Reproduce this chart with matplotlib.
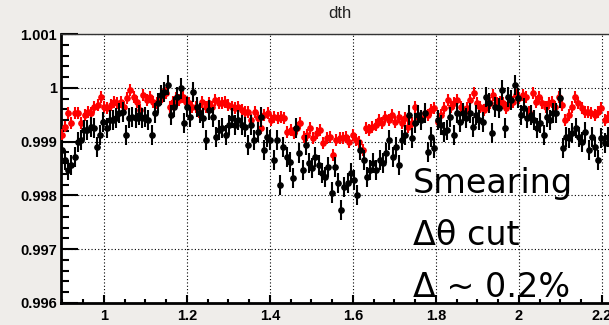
import matplotlib
matplotlib.use('Agg')
import matplotlib.pyplot as plt
import numpy as np
from matplotlib.ticker import MultipleLocator, FuncFormatter

# dth ratio, red = smearing, black = delta-theta cut
red_vals = [
    0.99912, 0.99928, 0.99953, 0.99935, 0.99953, 0.99953, 0.99935, 0.99949, 0.99955, 0.99953,
    0.99964, 0.99968, 0.99983, 0.99964, 0.99962, 0.99968, 0.99974, 0.99972, 0.99974, 0.99964,
    0.99981, 0.99996, 0.99983, 0.99974, 0.99959, 0.99987, 0.99977, 0.99983, 0.99974, 0.99972,
    0.99977, 0.99987, 0.99990, 0.99964, 0.99974, 0.99981, 0.99977, 0.99983, 0.99974, 0.99972,
    0.99964, 0.99964, 0.99955, 0.99974, 0.99964, 0.99972, 0.99964, 0.99977, 0.99972, 0.99972,
    0.99974, 0.99968, 0.99964, 0.99962, 0.99964, 0.99959, 0.99955, 0.99955, 0.99940, 0.99955,
    0.99944, 0.99925, 0.99949, 0.99953, 0.99940, 0.99946, 0.99944, 0.99946, 0.99944, 0.99918,
    0.99922, 0.99916, 0.99925, 0.99935, 0.99909, 0.99912, 0.99925, 0.99907, 0.99916, 0.99922,
    0.99897, 0.99907, 0.99909, 0.99875, 0.99903, 0.99907, 0.99907, 0.99909, 0.99899, 0.99912,
    0.99903, 0.99899, 0.99884, 0.99925, 0.99922, 0.99927, 0.99931, 0.99940, 0.99935, 0.99946,
    0.99940, 0.99949, 0.99936, 0.99946, 0.99935, 0.99944, 0.99927, 0.99935, 0.99964, 0.99946,
    0.99944, 0.99953, 0.99949, 0.99959, 0.99962, 0.99936, 0.99949, 0.99962, 0.99977, 0.99964,
    0.99972, 0.99977, 0.99964, 0.99953, 0.99962, 0.99977, 0.99990, 0.99972, 0.99964, 0.99959,
    0.99968, 0.99972, 0.99987, 0.99972, 0.99974, 0.99972, 0.99962, 0.99972, 0.99974, 0.99987,
    0.99981, 0.99987, 0.99983, 0.99955, 0.99990, 0.99974, 0.99983, 0.99972, 0.99964, 0.99972,
    0.99974, 0.99964, 0.99983, 0.99968, 0.99940, 0.99949, 0.99964, 0.99983, 0.99972, 0.99962,
    0.99955, 0.99955, 0.99953, 0.99949, 0.99955, 0.99962, 0.99940, 0.99946,
]
black_vals = [
    0.99884, 0.99866, 0.99847, 0.99857, 0.99871, 0.99899, 0.99903, 0.99922, 0.99922, 0.99927,
    0.99925, 0.99890, 0.99912, 0.99936, 0.99925, 0.99940, 0.99940, 0.99944, 0.99953, 0.99955,
    0.99912, 0.99944, 0.99946, 0.99944, 0.99949, 0.99944, 0.99946, 0.99940, 0.99912, 0.99953,
    0.99972, 0.99987, 0.99992, 1.00005, 0.99949, 0.99964, 0.99983, 0.99999, 0.99935, 0.99964,
    0.99946, 0.99992, 0.99964, 0.99953, 0.99944, 0.99903, 0.99959, 0.99946, 0.99909, 0.99922,
    0.99925, 0.99912, 0.99931, 0.99944, 0.99931, 0.99940, 0.99931, 0.99927, 0.99894, 0.99931,
    0.99903, 0.99918, 0.99946, 0.99884, 0.99909, 0.99903, 0.99866, 0.99903, 0.99819, 0.99890,
    0.99871, 0.99862, 0.99832, 0.99925, 0.99879, 0.99847, 0.99894, 0.99860, 0.99851, 0.99871,
    0.99857, 0.99842, 0.99834, 0.99853, 0.99805, 0.99853, 0.99823, 0.99773, 0.99816, 0.99823,
    0.99842, 0.99829, 0.99801, 0.99884, 0.99866, 0.99834, 0.99847, 0.99860, 0.99847, 0.99866,
    0.99860, 0.99879, 0.99903, 0.99871, 0.99890, 0.99857, 0.99903, 0.99912, 0.99949, 0.99907,
    0.99935, 0.99949, 0.99940, 0.99953, 0.99881, 0.99909, 0.99888, 0.99940, 0.99931, 0.99918,
    0.99922, 0.99946, 0.99912, 0.99953, 0.99936, 0.99953, 0.99944, 0.99953, 0.99927, 0.99949,
    0.99940, 0.99936, 0.99983, 0.99972, 0.99916, 0.99964, 0.99962, 0.99996, 0.99925, 0.99983,
    0.99977, 1.00005, 0.99981, 0.99949, 0.99962, 0.99944, 0.99949, 0.99940, 0.99925, 0.99935,
    0.99912, 0.99946, 0.99940, 0.99953, 0.99953, 0.99981, 0.99888, 0.99909, 0.99907, 0.99916,
    0.99925, 0.99909, 0.99899, 0.99918, 0.99884, 0.99909, 0.99890, 0.99866, 0.99907, 0.99897,
    0.99909,
]
red_err = 0.00011
black_err = 0.00019
x_first, x_last = 0.898, 2.214

x_red = np.linspace(x_first, x_last, len(red_vals))
x_black = np.linspace(x_first, x_last, len(black_vals))

fig = plt.figure(figsize=(6.09, 3.25), dpi=100)
fig.patch.set_facecolor('#efedea')
ax = fig.add_axes([61/609, 22/325, 548/609, 269/325])
ax.set_facecolor('white')

ax.errorbar(x_red, red_vals, yerr=red_err, fmt='o', ms=3.8, color='red',
            ecolor='red', elinewidth=1.5, capsize=0, zorder=3)
ax.errorbar(x_black, black_vals, yerr=black_err, fmt='o', ms=3.8, color='black',
            ecolor='black', elinewidth=1.5, capsize=0, zorder=4)

ax.set_xlim(0.8964, 2.2169)
ax.set_ylim(0.996, 1.001)
ax.xaxis.set_major_locator(MultipleLocator(0.2))
ax.xaxis.set_minor_locator(MultipleLocator(0.05))
ax.yaxis.set_major_locator(MultipleLocator(0.001))
ax.yaxis.set_minor_locator(MultipleLocator(0.0002))
fmt = FuncFormatter(lambda v, p: '%g' % round(v, 4))
ax.xaxis.set_major_formatter(fmt)
ax.yaxis.set_major_formatter(fmt)

ax.tick_params(axis='y', which='major', direction='in', length=12, width=1.5,
               pad=3, labelsize=10.5, right=False)
ax.tick_params(axis='y', which='minor', direction='in', length=6, width=1.5, right=False)
ax.tick_params(axis='x', which='major', direction='in', length=6, width=1.5,
               pad=4, labelsize=10.5, top=False)
ax.tick_params(axis='x', which='minor', direction='in', length=3, width=1.5, top=False)
for lab in ax.get_xticklabels() + ax.get_yticklabels():
    lab.set_fontfamily('Liberation Sans')
    lab.set_fontweight('bold')

ax.grid(True, which='major', color='black', linestyle=(0, (1, 2)), linewidth=0.8)
ax.set_axisbelow(True)
ax.spines['left'].set_linewidth(2)
ax.spines['bottom'].set_linewidth(2)
ax.spines['top'].set_linewidth(1)
ax.spines['top'].set_color('#333333')
ax.spines['right'].set_visible(False)

fig.text(340/609, 1 - 14/325, 'dth', ha='center', va='center', fontsize=12,
         family='Liberation Sans', color='#222222')

for txt, yb in [('Smearing', 193), ('\u0394\u03b8 cut', 245), ('\u0394 ~ 0.2%', 297)]:
    fig.text(413/609, 1 - yb/325, txt, ha='left', va='baseline', fontsize=24,
             family='DejaVu Sans', color='black', zorder=10)

fig.savefig('out.png', dpi=100, facecolor=fig.get_facecolor())
